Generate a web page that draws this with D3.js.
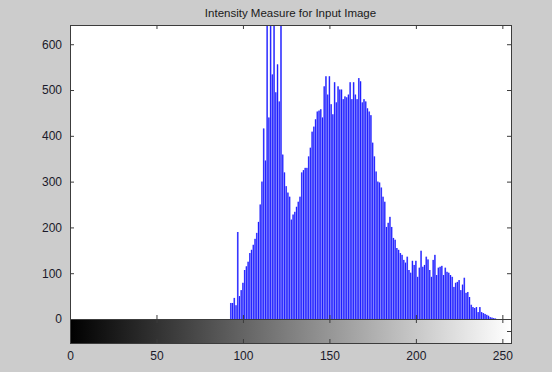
<!DOCTYPE html>
<html>
<head>
<meta charset="utf-8">
<script src="https://cdn.jsdelivr.net/npm/d3@7"></script>
<style>
  body { margin: 0; background: #cccccc; }
  svg { display: block; font-family: "Liberation Sans", Arial, sans-serif; }
</style>
</head>
<body>
<div id="chart"></div>
<script>
// histogram data: counts per grey level, starting at level 92 (all others are 0)
var firstLevel = 92;
var counts = [
  0, 35, 35, 46, 30, 190, 50, 63, 79, 107,            // 92-101
  115, 125, 144, 151, 162, 175, 188, 212, 250, 300,   // 102-111
  416, 346, 1100, 440, 900, 534, 750, 495, 556, 475,  // 112-121
  700, 359, 320, 290, 276, 267, 217, 228, 234, 245,   // 122-131
  256, 267, 320, 325, 330, 330, 355, 374, 409, 420,   // 132-141
  436, 453, 455, 458, 440, 508, 530, 490, 530, 469,   // 142-151
  447, 517, 473, 508, 501, 501, 480, 486, 484, 490,   // 152-161
  517, 480, 517, 490, 480, 526, 519, 473, 480, 475,   // 162-171
  460, 453, 445, 385, 355, 322, 300, 298, 287, 267,   // 172-181
  256, 201, 210, 223, 201, 177, 173, 155, 151, 144,   // 182-191
  140, 129, 123, 136, 107, 101, 127, 118, 127, 92,    // 192-201
  112, 149, 114, 118, 136, 130, 107, 92, 129, 140,    // 202-211
  96, 112, 114, 116, 96, 112, 103, 101, 96, 92,       // 212-221
  70, 79, 81, 85, 63, 75, 90, 57, 59, 48,             // 222-231
  31, 26, 24, 26, 15, 26, 15, 13, 11, 9,              // 232-241
  7, 4, 3, 2, 1                                       // 242-246
];
var xTicks = [0, 50, 100, 150, 200, 250];
var yTicks = [0, 100, 200, 300, 400, 500, 600];
var title = "Intensity Measure for Input Image";

var W = 552, H = 372;
var mLeft = 70, mRight = 511, mTop = 25, zeroY = 319, barBottom = 343;
var tickLen = 4;

var svg = d3.select("#chart").append("svg")
    .attr("width", W).attr("height", H);

svg.append("rect").attr("width", W).attr("height", H).attr("fill", "#cccccc");

var x = d3.scaleLinear().domain([0, 255]).range([mLeft, mRight]);
var y = d3.scaleLinear().domain([0, 642]).range([zeroY, mTop]);
var binW = x(1) - x(0);

// plot area
svg.append("rect")
    .attr("x", mLeft).attr("y", mTop)
    .attr("width", mRight - mLeft).attr("height", zeroY - mTop)
    .attr("fill", "#ffffff");

svg.append("clipPath").attr("id", "clip")
  .append("rect")
    .attr("x", mLeft).attr("y", mTop)
    .attr("width", mRight - mLeft).attr("height", zeroY - mTop);

var data = counts.map(function(c, i) { return {level: firstLevel + i, n: c}; })
    .filter(function(d) { return d.n > 0; });

var plot = svg.append("g").attr("clip-path", "url(#clip)");

// soft fill behind the stems (the screenshot blends neighbouring stems)
plot.append("g")
    .selectAll("rect")
    .data(data)
    .enter()
    .append("rect")
    .attr("x", function(d) { return x(d.level) - binW / 2; })
    .attr("y", function(d) { return y(d.n); })
    .attr("width", binW)
    .attr("height", function(d) { return y(0) - y(d.n); })
    .attr("fill", "#8a8aff");

// stems
plot.append("g")
    .selectAll("line")
    .data(data)
    .enter()
    .append("line")
    .attr("x1", function(d) { return x(d.level); })
    .attr("x2", function(d) { return x(d.level); })
    .attr("y1", y(0))
    .attr("y2", function(d) { return y(d.n); })
    .attr("stroke", "#1010ff")
    .attr("stroke-width", 0.9);

// axes of the histogram
var axisColor = "#3c3c3c";
svg.append("g")
    .attr("transform", "translate(" + mLeft + ",0)")
    .call(d3.axisLeft(y).tickValues(yTicks).tickSizeInner(-tickLen).tickSizeOuter(0).tickPadding(8))
    .call(function(g) {
      g.select(".domain").remove();
      g.selectAll("line").attr("stroke", axisColor);
      g.selectAll("text").attr("font-size", 12).attr("fill", "#1a1a2a");
    });

svg.append("g")
    .attr("transform", "translate(" + mRight + ",0)")
    .call(d3.axisRight(y).tickValues(yTicks).tickSizeInner(-tickLen).tickSizeOuter(0).tickFormat(""))
    .call(function(g) {
      g.select(".domain").remove();
      g.selectAll("line").attr("stroke", axisColor);
    });

svg.append("g")
    .attr("transform", "translate(0," + mTop + ")")
    .call(d3.axisTop(x).tickValues(xTicks).tickSizeInner(-tickLen).tickSizeOuter(0).tickFormat(""))
    .call(function(g) {
      g.select(".domain").remove();
      g.selectAll("line").attr("stroke", axisColor);
    });

svg.append("g")
    .attr("transform", "translate(0," + zeroY + ")")
    .call(d3.axisBottom(x).tickValues(xTicks).tickSizeInner(-tickLen).tickSizeOuter(0).tickFormat(""))
    .call(function(g) {
      g.select(".domain").remove();
      g.selectAll("line").attr("stroke", axisColor);
    });

svg.append("rect")
    .attr("x", mLeft + 0.5).attr("y", mTop + 0.5)
    .attr("width", mRight - mLeft).attr("height", zeroY - mTop)
    .attr("fill", "none").attr("stroke", axisColor);

// grey colour bar under the histogram
var grad = svg.append("defs").append("linearGradient")
    .attr("id", "grey").attr("gradientUnits", "userSpaceOnUse")
    .attr("x1", x(0)).attr("x2", x(255)).attr("y1", 0).attr("y2", 0);
grad.append("stop").attr("offset", "0%").attr("stop-color", "#000000");
grad.append("stop").attr("offset", "100%").attr("stop-color", "#ffffff");

svg.append("rect")
    .attr("x", mLeft).attr("y", zeroY)
    .attr("width", mRight - mLeft).attr("height", barBottom - zeroY)
    .attr("fill", "url(#grey)");

svg.append("g")
    .attr("transform", "translate(0," + zeroY + ")")
    .call(d3.axisTop(x).tickValues(xTicks).tickSizeInner(-tickLen).tickSizeOuter(0).tickFormat(""))
    .call(function(g) {
      g.select(".domain").remove();
      g.selectAll("line").attr("stroke", axisColor);
    });

svg.append("g")
    .attr("transform", "translate(0," + barBottom + ")")
    .call(d3.axisBottom(x).tickValues(xTicks).tickSizeInner(-tickLen).tickSizeOuter(0).tickPadding(8))
    .call(function(g) {
      g.select(".domain").remove();
      g.selectAll("line").attr("stroke", axisColor);
      g.selectAll("text").attr("font-size", 12).attr("fill", "#1a1a2a");
    });

// small tick on the right of the colour bar
svg.append("line")
    .attr("x1", mRight - tickLen).attr("x2", mRight)
    .attr("y1", (zeroY + barBottom) / 2 + 0.5).attr("y2", (zeroY + barBottom) / 2 + 0.5)
    .attr("stroke", axisColor);

svg.append("rect")
    .attr("x", mLeft + 0.5).attr("y", zeroY + 0.5)
    .attr("width", mRight - mLeft).attr("height", barBottom - zeroY)
    .attr("fill", "none").attr("stroke", axisColor);

// title
svg.append("text")
    .attr("x", (mLeft + mRight) / 2).attr("y", 17)
    .attr("text-anchor", "middle")
    .attr("font-size", 11.5)
    .attr("fill", "#1a1a1a")
    .text(title);
</script>
</body>
</html>
